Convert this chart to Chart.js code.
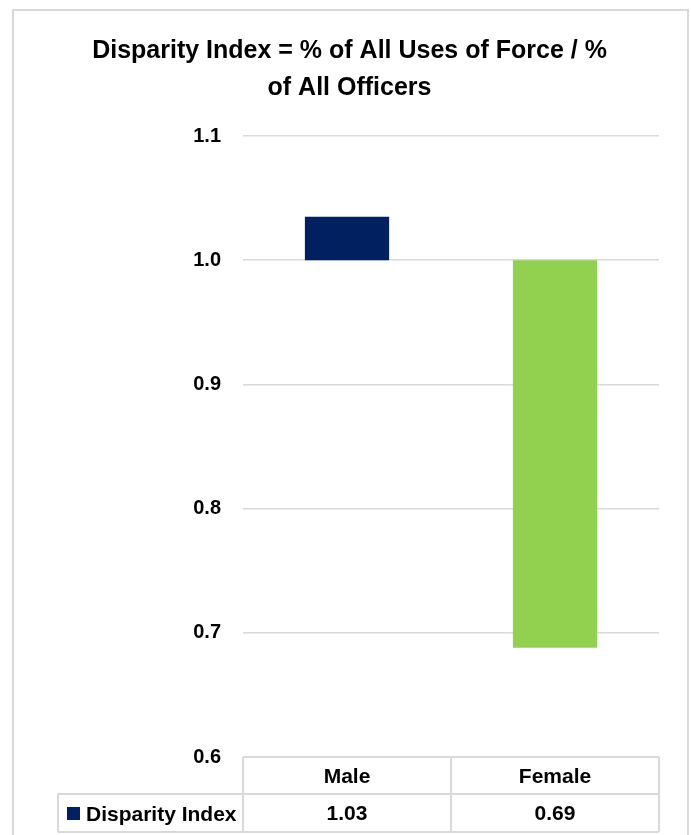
<!DOCTYPE html>
<html>
<head>
<meta charset="utf-8">
<title>Disparity Index</title>
<script src="https://cdn.jsdelivr.net/npm/chart.js@4/dist/chart.umd.min.js"></script>
<style>
  body { margin: 0; background: #fff; }
  #wrap { width: 691px; height: 835px; }
</style>
</head>
<body>
<div id="wrap"><canvas id="disparityChart" width="691" height="835"></canvas></div>
<script>
// dane z wykresu
const categories = ["Male", "Female"];
const seriesName = "Disparity Index";
const disparityValues = [1.035, 0.688];
const baseline = 1.0;
const barColors = ["#002060", "#92D050"];
const yTicks = [0.6, 0.7, 0.8, 0.9, 1.0, 1.1];
const titleLines = ["Disparity Index = % of All Uses of Force / %", "of All Officers"];

const FONT = "'Liberation Sans Narrow', 'Liberation Sans', Arial, sans-serif";
const GRID = "#d9d9d9";

// slupki "plywajace" od linii 1.0
const floatingData = disparityValues.map(v => [baseline, v]);
// etykiety osi X = tabela danych (kategoria + wartosc)
const tableLabels = categories.map((c, i) => [c, disparityValues[i].toFixed(2)]);

// ramka wykresu + tabela danych pod osia
const dataTablePlugin = {
    id: "dataTable",
    beforeDraw(chart) {
        const ctx = chart.ctx;
        ctx.save();
        ctx.strokeStyle = GRID;
        ctx.lineWidth = 2;
        ctx.strokeRect(13, 10, 675, 840);
        ctx.restore();
    },
    afterDraw(chart) {
        const ctx = chart.ctx;
        const area = chart.chartArea;
        const top = area.bottom;
        const mid = top + 37;
        const bottom = top + 75;
        const tableLeft = 58;

        ctx.save();
        ctx.strokeStyle = GRID;
        ctx.lineWidth = 2;
        ctx.beginPath();
        ctx.moveTo(area.left, top); ctx.lineTo(area.right, top);
        ctx.moveTo(tableLeft, mid); ctx.lineTo(area.right, mid);
        ctx.moveTo(tableLeft, bottom); ctx.lineTo(area.right, bottom);
        ctx.moveTo(tableLeft, mid); ctx.lineTo(tableLeft, bottom);
        ctx.moveTo(area.left, top); ctx.lineTo(area.left, bottom);
        const step = (area.right - area.left) / categories.length;
        for (let i = 1; i <= categories.length; i++) {
            const lx = area.left + step * i;
            ctx.moveTo(lx, top); ctx.lineTo(lx, bottom);
        }
        ctx.stroke();

        // klucz legendy + nazwa serii
        const rowY = (mid + bottom) / 2;
        ctx.fillStyle = barColors[0];
        ctx.fillRect(67, rowY - 6, 13, 13);
        ctx.fillStyle = "#000";
        ctx.font = "bold 21px " + FONT;
        ctx.textBaseline = "middle";
        ctx.textAlign = "left";
        ctx.fillText(seriesName, 86, rowY + 2);
        ctx.restore();
    }
};

const ctx = document.getElementById("disparityChart").getContext("2d");

window.disparityChartInstance = new Chart(ctx, {
    type: "bar",
    data: {
        labels: tableLabels,
        datasets: [{
            label: seriesName,
            data: floatingData,
            backgroundColor: barColors,
            borderWidth: 0,
            barPercentage: 0.405,
            categoryPercentage: 1.0
        }]
    },
    options: {
        responsive: false,
        animation: false,
        devicePixelRatio: 1,
        layout: {
            padding: { left: 40, right: 32, top: 32, bottom: 0 }
        },
        plugins: {
            legend: { display: false },
            tooltip: { enabled: false },
            title: {
                display: true,
                text: titleLines,
                color: "#000",
                font: { family: FONT, size: 25, weight: "bold", lineHeight: 1.5 },
                padding: { top: 0, bottom: 29 }
            }
        },
        scales: {
            x: {
                grid: { display: false, drawTicks: false },
                border: { display: false },
                ticks: {
                    color: "#000",
                    padding: 2,
                    font: { family: FONT, size: 21, weight: "bold", lineHeight: 1.76 }
                },
                afterFit(scale) { scale.height = 78; }
            },
            y: {
                min: 0.6,
                max: 1.1,
                afterBuildTicks(scale) {
                    scale.ticks = yTicks.map(v => ({ value: v }));
                },
                grid: { color: GRID, lineWidth: 1.5, drawTicks: false },
                border: { display: false },
                ticks: {
                    color: "#000",
                    padding: 22,
                    font: { family: FONT, size: 20, weight: "bold" },
                    callback: v => v.toFixed(1)
                },
                afterFit(scale) { scale.width = 203; }
            }
        }
    },
    plugins: [dataTablePlugin]
});
</script>
</body>
</html>
